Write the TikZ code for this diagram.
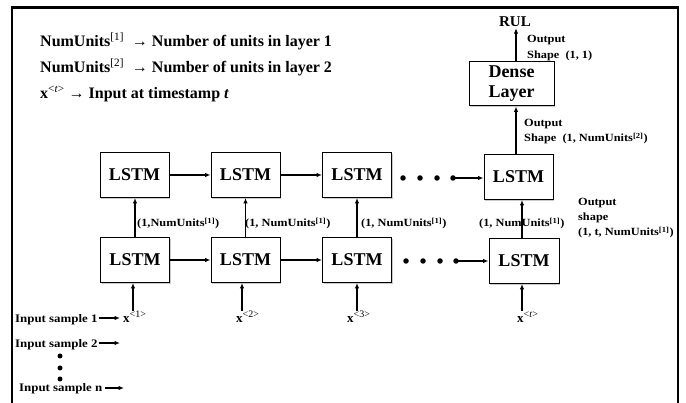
\documentclass[tikz,border=0pt]{standalone}
\usepackage{fontspec}
\setmainfont{Liberation Serif}
\newfontfamily\widefont[FakeStretch=1.12]{Liberation Serif}
\newcommand{\xsup}[1]{\raisebox{5pt}{\fontsize{10}{10}\selectfont\mdseries #1}}
\usetikzlibrary{arrows.meta,shadows}
\begin{document}
\begin{tikzpicture}[x=1pt,y=-1pt,
  arr/.style={-{Latex[length=5.5pt,width=4.5pt]}, line width=1.3pt},
  box/.style={draw, line width=1pt, fill=white, minimum width=69pt, minimum height=45pt, inner sep=0pt,
    font=\fontsize{18}{18}\selectfont\bfseries,
    drop shadow={shadow xshift=1.2pt, shadow yshift=-1.2pt, fill=black!35, opacity=0.6}},
  lbl/.style={font=\widefont\fontsize{11}{12}\selectfont\bfseries, inner sep=0pt, anchor=base west},
  head/.style={font=\fontsize{16}{16}\selectfont\bfseries, anchor=base west, inner sep=0pt},
  inp/.style={font=\widefont\fontsize{11.5}{12}\selectfont\bfseries, anchor=base west, inner sep=0pt},
  xin/.style={font=\fontsize{13}{13}\selectfont\bfseries, anchor=base west, inner sep=0pt},
  dot/.style={circle, fill=black, inner sep=0pt, minimum size=5.5pt}
]
\useasboundingbox (0,0) rectangle (686,403);
% frame
\draw[line width=2.5pt] (12,410) -- (12,7.5) -- (678,7.5) -- (678,410);

% header
\node[head] (h1) at (40,47) {NumUnits\textsuperscript{\mdseries[1]}\ \ → Number of units in layer 1};
\node[head] (h2) at (40,73) {NumUnits\textsuperscript{\mdseries[2]}\ \ → Number of units in layer 2};
\node[head] (h3) at (40,99) {x\textsuperscript{\mdseries<\textit{t}>} → Input at timestamp \textit{t}};

% top row
\node[box] (T1) at (134.5,175) {LSTM};
\node[box] (T2) at (245.5,175) {LSTM};
\node[box] (T3) at (357,175) {LSTM};
\node[box] (T4) at (518.5,177) {LSTM};
% bottom row
\node[box] (B1) at (135,260) {LSTM};
\node[box] (B2) at (245.5,260) {LSTM};
\node[box] (B3) at (357,260) {LSTM};
\node[box, minimum width=70pt] (B4) at (524,261) {LSTM};

% dense
\node[box, minimum width=85pt, minimum height=44pt, font=\fontsize{18}{20}\selectfont\bfseries, align=center] (D) at (511.5,84) {Dense\\Layer};
\node[font=\fontsize{15}{15}\selectfont\bfseries, inner sep=1pt] (RUL) at (515,22) {RUL};

% horizontal arrows
\draw[arr] (T1.east) -- (T2.west);
\draw[arr] (T2.east) -- (T3.west);
\draw[arr] (B1.east) -- (B2.west);
\draw[arr] (B2.east) -- (B3.west);
% dots top
\node[dot] (dt1) at (403,178) {};
\node[dot] (dt2) at (420,178) {};
\node[dot] (dt3) at (437,178) {};
\node[dot] (dt4) at (453,178) {};
\draw[arr] (dt4.center) -- (dt4.center -| T4.west);
% dots bottom
\node[dot] (db1) at (406,261) {};
\node[dot] (db2) at (423,261) {};
\node[dot] (db3) at (440,261) {};
\node[dot] (db4) at (456,261) {};
\draw[arr] (db4.center) -- (db4.center -| B4.west);

% vertical arrows between rows
\draw[arr] (B1.north) -- (B1.north |- T1.south);
\draw[arr] (B2.north) -- (B2.north |- T2.south);
\draw[arr] (B3.north) -- (B3.north |- T3.south);
\coordinate (v4) at (522,0);

% labels between rows
\node[lbl] (l1) at (137,227) {(1,NumUnits\textsuperscript{[1]})};
\node[lbl] (l2) at (245,227) {(1, NumUnits\textsuperscript{[1]})};
\node[lbl] (l3) at (361,227) {(1, NumUnits\textsuperscript{[1]})};
\node[lbl] (l4) at (479,227) {(1, NumUnits\textsuperscript{[1]})};
\draw[arr] (B4.north -| v4) -- (T4.south -| v4);
\node[lbl] (os1) at (578,206) {Output};
\node[lbl] (os2) at (578,221) {shape};
\node[lbl] (os3) at (578,236) {(1, t, NumUnits\textsuperscript{[1]})};

% to dense and RUL
\coordinate (v5) at (516,0);
\draw[arr] (T4.north -| v5) -- (D.south -| v5);
\draw[arr] (D.north -| v5) -- (RUL.south -| v5);
\node[lbl] (o21) at (524,127) {Output};
\node[lbl] (o22) at (524,142) {Shape\ \ (1, NumUnits\textsuperscript{[2]})};
\node[lbl] (o11) at (527,43) {Output};
\node[lbl] (o12) at (527,59) {Shape\ \ (1, 1)};

% inputs
\node[xin] (x1) at (123,323) {x\xsup{<1>}};
\node[xin] (x2) at (236,323) {x\xsup{<2>}};
\node[xin] (x3) at (347,323) {x\xsup{<3>}};
\node[xin] (x4) at (517,323) {x\xsup{<\textit{t}>}};
\coordinate (a1) at (133,311);
\coordinate (a2) at (242,311);
\coordinate (a3) at (357,311);
\coordinate (a4) at (522,311);
\draw[arr] (a1) -- (a1 |- B1.south);
\draw[arr] (a2) -- (a2 |- B2.south);
\draw[arr] (a3) -- (a3 |- B3.south);
\draw[arr] (a4) -- (a4 |- B4.south);

% input samples
\node[inp] (s1) at (15,323) {Input sample 1};
\node[inp] (s2) at (15,348) {Input sample 2};
\node[inp] (sn) at (19,392) {Input sample n};
\coordinate (e1) at (120,318);
\coordinate (e2) at (120,343);
\coordinate (en) at (124,388);
\draw[arr] (s1.east |- e1) ++(1,0) -- (e1);
\draw[arr] (s2.east |- e2) ++(1,0) -- (e2);
\draw[arr] (sn.east |- en) ++(3,0) -- (en);
\node[dot, minimum size=5pt] (d1) at (60,356) {};
\node[dot, minimum size=5pt] (d2) at (60,368) {};
\node[dot, minimum size=5pt] (d3) at (60,379) {};
\end{tikzpicture}
\end{document}
